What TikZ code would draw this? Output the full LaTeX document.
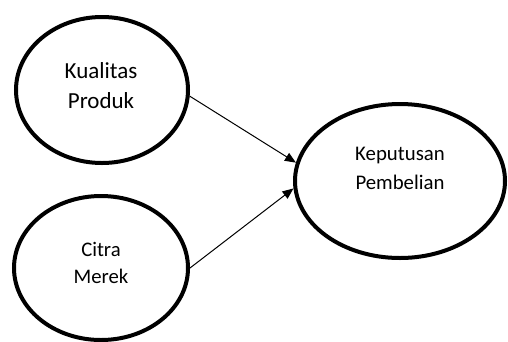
\documentclass[tikz,border=0pt]{standalone}
\usepackage{fontspec}
\setmainfont{Carlito}
\usetikzlibrary{shapes.geometric,arrows.meta}
\begin{document}
\begin{tikzpicture}[x=1pt,y=-1pt,
  construct/.style={draw=black,line width=4pt,ellipse,inner sep=0pt},
  label/.style={align=center,inner sep=0pt},
  link/.style={draw=black,line width=1pt,-{Triangle[length=11pt,width=9pt]}}]
\useasboundingbox (0,0) rectangle (508,341);
% the three latent variables
\node[construct,minimum width=172pt,minimum height=146pt] (kp) at (102,90) {};
\node[construct,minimum width=174pt,minimum height=144pt] (cm) at (101,268) {};
\node[construct,minimum width=210pt,minimum height=154pt] (kb) at (400,181) {};
% their names
\node[label,font=\fontsize{23}{30}\selectfont] (kpt) at (101,86) {Kualitas\\Produk};
\node[label,font=\fontsize{20.7}{27}\selectfont] (cmt) at (101,263) {Citra\\Merek};
\node[label,font=\fontsize{20.8}{29}\selectfont] (kbt) at (400,168) {Keputusan\\Pembelian};
% paths into the dependent variable
\draw[link] (kp.-4) -- (kb.170);
\draw[link] (cm.0) -- (kb.184);
\end{tikzpicture}
\end{document}
